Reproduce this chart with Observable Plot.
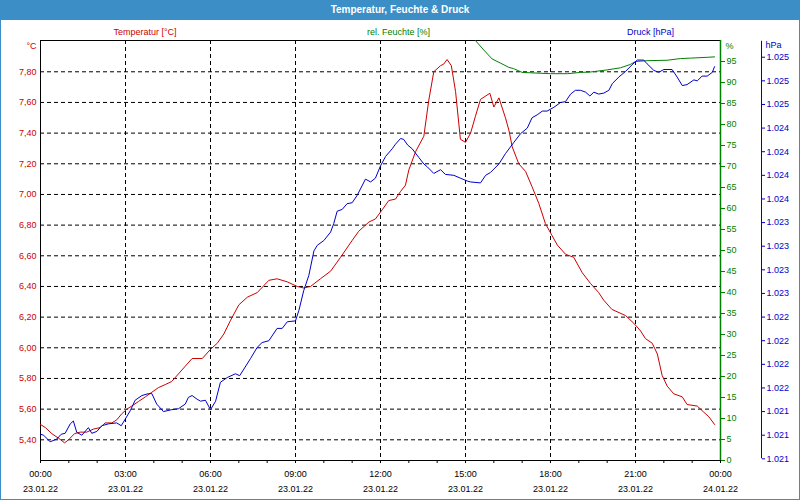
<!DOCTYPE html>
<html><head><meta charset="utf-8">
<script src="https://cdn.jsdelivr.net/npm/d3@7"></script>
<script src="https://cdn.jsdelivr.net/npm/@observablehq/plot@0.6"></script>
<style>
html,body{margin:0;padding:0;background:#fff;}
#wrap{position:relative;width:800px;height:500px;background:#fff;overflow:hidden;font-family:"Liberation Sans",Arial,sans-serif;}
#title{position:absolute;left:0;top:0;width:800px;height:20px;line-height:19px;background:#3c8ec6;color:#fff;font-weight:bold;font-size:10px;text-align:center;}
#chart{position:absolute;left:0;top:20px;}
#border{position:absolute;left:0;top:0;width:800px;height:500px;border:1px solid #3c8ec6;pointer-events:none;box-sizing:border-box;}
</style></head>
<body><div id="wrap"><div id="title">Temperatur, Feuchte &amp; Druck</div><div id="chart"></div><div id="border"></div></div>
<script>
// ---- data (hours since 23.01.22 00:00) ----
const tempHours = [0,0.17,0.40,0.64,0.85,0.99,1.20,1.40,1.63,1.87,2.11,2.28,2.52,2.69,2.87,3.05,3.22,3.46,3.70,3.93,4.16,4.40,4.63,4.87,5.11,5.35,5.71,6.00,6.24,6.47,6.71,7.00,7.30,7.65,8.06,8.35,8.71,9.06,9.29,9.53,9.88,10.24,10.59,11.0,11.23,11.59,11.82,12.06,12.29,12.53,12.71,12.88,13.0,13.24,13.53,13.70,13.88,14.12,14.23,14.35,14.50,14.65,14.82,15.0,15.18,15.35,15.53,15.86,16.0,16.18,16.41,16.53,16.65,16.88,17.12,17.35,17.59,17.82,18.06,18.24,18.53,18.82,19.12,19.41,19.70,19.88,20.17,20.65,20.94,21.18,21.35,21.59,21.77,21.94,22.12,22.35,22.65,22.82,23.18,23.41,23.59,23.79];
const tempValues = [5.50,5.48,5.44,5.41,5.38,5.40,5.44,5.45,5.45,5.47,5.48,5.51,5.51,5.53,5.57,5.60,5.62,5.65,5.68,5.71,5.74,5.76,5.78,5.83,5.88,5.93,5.93,5.99,6.03,6.09,6.18,6.28,6.33,6.36,6.44,6.45,6.43,6.40,6.39,6.40,6.45,6.50,6.59,6.70,6.76,6.82,6.84,6.90,6.96,6.97,7.02,7.06,7.16,7.28,7.38,7.61,7.80,7.84,7.85,7.88,7.84,7.67,7.36,7.34,7.40,7.51,7.62,7.66,7.57,7.63,7.50,7.42,7.31,7.20,7.15,7.05,6.94,6.81,6.73,6.67,6.61,6.59,6.49,6.42,6.36,6.31,6.25,6.21,6.16,6.11,6.06,6.03,5.96,5.82,5.75,5.70,5.68,5.63,5.62,5.58,5.55,5.50];

const humHours = [15.35,15.65,15.94,16.24,16.53,16.70,17.0,17.65,18.0,18.6,19.06,19.41,20.0,20.47,20.82,21.0,21.41,22.12,22.59,22.94,23.53,23.79];
const humValues = [100,97.7,95.6,94.6,93.6,93.3,92.4,92.2,92.1,92.1,92.4,92.5,93.0,93.5,94.3,95.0,95.2,95.3,95.7,95.8,96.0,96.1];

const pressHours = [0,0.11,0.34,0.58,0.73,0.87,1.05,1.16,1.28,1.46,1.69,1.81,1.99,2.16,2.40,2.69,2.85,2.99,3.17,3.34,3.58,3.81,3.93,4.10,4.34,4.63,4.87,5.11,5.22,5.35,5.53,5.65,5.82,6.00,6.18,6.35,6.59,6.88,7.03,7.18,7.41,7.65,7.82,8.06,8.35,8.53,8.71,9.0,9.12,9.29,9.47,9.65,9.77,10.0,10.24,10.35,10.47,10.65,10.82,11.0,11.18,11.47,11.65,11.82,12.0,12.18,12.41,12.53,12.71,12.82,12.96,13.12,13.35,13.53,13.65,13.88,14.12,14.29,14.59,14.82,15.06,15.18,15.53,15.71,15.88,16.18,16.41,16.71,16.94,17.18,17.35,17.53,17.71,17.88,18.12,18.35,18.53,18.71,18.88,19.06,19.24,19.39,19.53,19.70,19.88,20.06,20.18,20.41,20.65,20.88,21.06,21.29,21.41,21.65,21.82,22.0,22.29,22.47,22.65,22.82,23.06,23.18,23.35,23.53,23.71,23.79];
const pressValues = [1021.01,1021.00,1020.93,1020.96,1021.01,1021.02,1021.12,1021.15,1021.03,1021.00,1021.08,1021.02,1021.04,1021.10,1021.12,1021.13,1021.10,1021.17,1021.26,1021.37,1021.42,1021.44,1021.44,1021.33,1021.25,1021.27,1021.28,1021.33,1021.40,1021.42,1021.38,1021.36,1021.37,1021.27,1021.36,1021.56,1021.61,1021.65,1021.63,1021.70,1021.81,1021.93,1021.98,1022.00,1022.13,1022.13,1022.20,1022.21,1022.32,1022.53,1022.69,1022.95,1023.01,1023.06,1023.15,1023.24,1023.37,1023.39,1023.45,1023.46,1023.54,1023.71,1023.68,1023.72,1023.85,1023.95,1024.03,1024.08,1024.14,1024.13,1024.07,1024.03,1023.94,1023.87,1023.84,1023.77,1023.81,1023.76,1023.75,1023.72,1023.69,1023.68,1023.67,1023.75,1023.78,1023.87,1023.98,1024.10,1024.19,1024.25,1024.36,1024.39,1024.43,1024.43,1024.47,1024.52,1024.53,1024.61,1024.65,1024.65,1024.63,1024.59,1024.63,1024.61,1024.62,1024.65,1024.72,1024.79,1024.85,1024.92,1024.97,1024.97,1024.93,1024.86,1024.84,1024.87,1024.87,1024.79,1024.70,1024.71,1024.76,1024.75,1024.80,1024.80,1024.84,1024.90];

// ---- ticks & labels ----
const tempTicks = [5.4,5.6,5.8,6.0,6.2,6.4,6.6,6.8,7.0,7.2,7.4,7.6,7.8];
const humTicks = [0,5,10,15,20,25,30,35,40,45,50,55,60,65,70,75,80,85,90,95];
const pressTicks = [1020.75,1021,1021.25,1021.5,1021.75,1022,1022.25,1022.5,1022.75,1023,1023.25,1023.5,1023.75,1024,1024.25,1024.5,1024.75,1025];
const hourTicks = [0,3,6,9,12,15,18,21,24];
const hourMinor = [0,1,2,3,4,5,6,7,8,9,10,11,12,13,14,15,16,17,18,19,20,21,22,23,24];
const tickDates = ["23.01.22","23.01.22","23.01.22","23.01.22","23.01.22","23.01.22","23.01.22","23.01.22","24.01.22"];
const seriesLabels = ["Temperatur [°C]","rel. Feuchte [%]","Druck [hPa]"];
const unitLabels = ["°C","%","hPa"];

const RED = "#cc0000", GREEN = "#008000", BLUE = "#0000cc";

// shared y scale is temperature; other series are rescaled into it
const T_DOMAIN = [5.265, 8.004];
const humToT = d3.scaleLinear().domain([0,100]).range(T_DOMAIN);
const pToT = d3.scaleLinear().domain([1020.75,1025]).range([5.276,7.895]);

const tempData = tempHours.map((h,i)=>({h, v: tempValues[i]}));
const humData = humHours.map((h,i)=>({h, v: humToT(humValues[i])}));
const pressData = pressHours.map((h,i)=>({h, v: pToT(pressValues[i])}));

const fmtHour = h => String(h % 24).padStart(2,"0") + ":00";
const dash = {stroke:"#000", strokeOpacity:1, strokeDasharray:"4,3"};

const chart = Plot.plot({
  width: 800, height: 480,
  marginTop: 20, marginBottom: 40, marginLeft: 40, marginRight: 80,
  style: {fontFamily: "'Liberation Sans', Arial, sans-serif", fontSize: "9px", background: "transparent", overflow: "visible"},
  x: {domain: [0,24]},
  y: {domain: T_DOMAIN},
  marks: [
    Plot.gridY(tempTicks, dash),
    Plot.gridX(hourTicks.slice(1,-1), dash),
    Plot.frame({stroke:"#000"}),
    Plot.line(humData, {x:"h", y:"v", stroke: GREEN, strokeWidth: 1}),
    Plot.line(tempData, {x:"h", y:"v", stroke: RED, strokeWidth: 1}),
    Plot.line(pressData, {x:"h", y:"v", stroke: BLUE, strokeWidth: 1}),
    // left temperature axis
    Plot.axisY(tempTicks, {anchor:"left", tickSize:0, tickPadding:4, color: RED, tickFormat: d => d.toFixed(2).replace(".", ","), label: null}),
    // green humidity axis
    Plot.ruleX([24], {stroke: GREEN, strokeWidth: 1.5}),
    Plot.axisY(humTicks.map(humToT), {anchor:"right", tickSize:4, tickPadding:2, color: GREEN, tickFormat: t => String(Math.round(humToT.invert(t))), label: null}),
    // blue pressure axis
    Plot.ruleX([24], {dx: 41, y1: pToT(1020.75), y2: T_DOMAIN[1] - 0.005, stroke: BLUE, strokeWidth: 1}),
    Plot.axisY(pressTicks.map(pToT), {anchor:"right", dx: 41, tickSize:3, tickPadding:2, color: BLUE, tickFormat: t => { const r = String(Math.round(pToT.invert(t) + 1e-6)); return r[0] + "." + r.slice(1); }, label: null}),
    // x axis
    Plot.axisX(hourMinor, {anchor:"bottom", tickSize:3, tickFormat: () => "", label: null}),
    Plot.axisX(hourTicks, {anchor:"bottom", tickSize:3, tickPadding:3, lineHeight:1.65, tickFormat: h => fmtHour(h) + "\n" + tickDates[hourTicks.indexOf(h)], label: null}),
    // unit labels
    Plot.text([unitLabels[0]], {frameAnchor:"top-left", textAnchor:"end", dx:-4, dy:2, fill: RED}),
    Plot.text([unitLabels[1]], {frameAnchor:"top-right", textAnchor:"start", dx:5, dy:2, fill: GREEN}),
    Plot.text([unitLabels[2]], {frameAnchor:"top-right", textAnchor:"start", dx:45, dy:1, fill: BLUE}),
    // series labels
    Plot.text([seriesLabels[0]], {frameAnchor:"top-left", textAnchor:"middle", dx:104.5, dy:-12, fill: RED}),
    Plot.text([seriesLabels[1]], {frameAnchor:"top-left", textAnchor:"middle", dx:358, dy:-12, fill: GREEN}),
    Plot.text([seriesLabels[2]], {frameAnchor:"top-left", textAnchor:"middle", dx:610, dy:-12, fill: BLUE})
  ]
});
document.getElementById("chart").appendChild(chart);
</script>
</body></html>
